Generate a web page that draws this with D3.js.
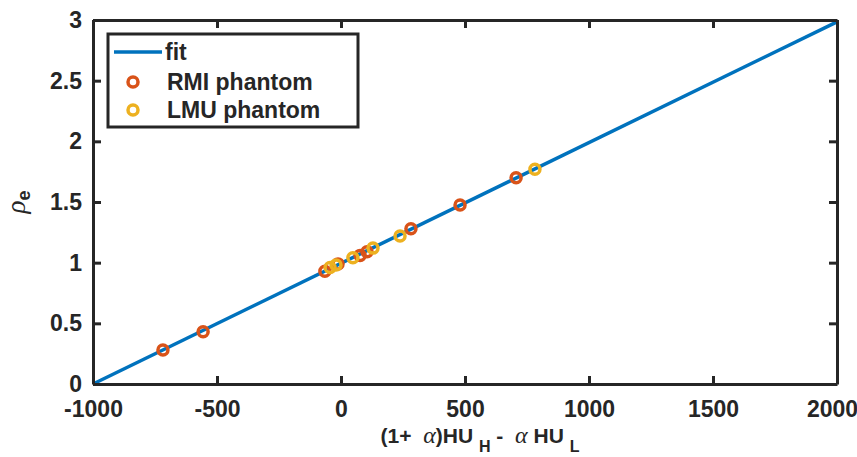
<!DOCTYPE html>
<html>
<head>
<meta charset="utf-8">
<script src="https://cdn.jsdelivr.net/npm/d3@7"></script>
<style>
  body { margin: 0; background: #fff; }
  text { font-family: "Liberation Sans", Arial, sans-serif; font-weight: bold; fill: #262626; }
</style>
</head>
<body>
<script>
'use strict';

// data
let fitX = [-1000, 2000];
let fitY = [0, 2.985];
let rmiX = [-718, -556, -65, -12, 77, 105, 282, 480, 706];
let rmiY = [0.28, 0.43, 0.93, 0.99, 1.06, 1.09, 1.28, 1.475, 1.70];
let lmuX = [-44, -20, 48, 129, 238, 782];
let lmuY = [0.96, 0.98, 1.04, 1.12, 1.22, 1.77];
let xTicks = [-1000, -500, 0, 500, 1000, 1500, 2000];
let yTicks = [0, 0.5, 1, 1.5, 2, 2.5, 3];

let width = 857;
let height = 457;
let margin = {left: 93, right: 20, top: 20, bottom: 73};
let axisColor = '#262626';
let blue = '#0072BD', orange = '#D95319', yellow = '#EDB120';

let svg = d3.select('body').append('svg')
  .attr('width', width)
  .attr('height', height);

let xScale = d3.scaleLinear()
  .domain([-1000, 2000])
  .range([margin.left, width - margin.right]);
let yScale = d3.scaleLinear()
  .domain([0, 3])
  .range([height - margin.bottom, margin.top]);

// fit line
let line = d3.line()
  .x(d => xScale(d[0]))
  .y(d => yScale(d[1]));
svg.append('path')
  .datum(d3.zip(fitX, fitY))
  .attr('d', line)
  .attr('fill', 'none')
  .attr('stroke', blue)
  .attr('stroke-width', 3.5);

// markers
function drawPoints(xs, ys, color) {
  svg.append('g').selectAll('circle')
    .data(d3.zip(xs, ys))
    .enter()
    .append('circle')
    .attr('cx', d => xScale(d[0]))
    .attr('cy', d => yScale(d[1]))
    .attr('r', 5)
    .attr('fill', 'none')
    .attr('stroke', color)
    .attr('stroke-width', 3.5);
}
drawPoints(rmiX, rmiY, orange);
drawPoints(lmuX, lmuY, yellow);

// axes (box with inward ticks)
function styleAxis(g) {
  g.select('.domain').attr('stroke', axisColor).attr('stroke-width', 3);
  g.selectAll('.tick line').attr('stroke', axisColor).attr('stroke-width', 3);
  g.selectAll('.tick text')
    .attr('fill', axisColor)
    .style('font-family', '"Liberation Sans", Arial, sans-serif')
    .style('font-weight', 'bold')
    .style('font-size', '23px');
}

let fmt = d => String(d);
let xAxisG = svg.append('g')
  .attr('transform', 'translate(0,' + (height - margin.bottom) + ')')
  .call(d3.axisBottom(xScale).tickValues(xTicks).tickSizeInner(-8).tickSizeOuter(0).tickPadding(17).tickFormat(fmt))
  .call(styleAxis);
// keep the last label inside the page
xAxisG.selectAll('.tick text').filter(d => d === 2000).attr('x', -5);

svg.append('g')
  .attr('transform', 'translate(0,' + margin.top + ')')
  .call(d3.axisTop(xScale).tickValues(xTicks).tickSizeInner(-8).tickSizeOuter(0).tickFormat(''))
  .call(styleAxis);
svg.append('g')
  .attr('transform', 'translate(' + margin.left + ',0)')
  .call(d3.axisLeft(yScale).tickValues(yTicks).tickSizeInner(-8).tickSizeOuter(0).tickPadding(11).tickFormat(fmt))
  .call(styleAxis);
svg.append('g')
  .attr('transform', 'translate(' + (width - margin.right) + ',0)')
  .call(d3.axisRight(yScale).tickValues(yTicks).tickSizeInner(-8).tickSizeOuter(0).tickFormat(''))
  .call(styleAxis);

// x label
let xl = svg.append('text')
  .attr('x', 480)
  .attr('y', 443)
  .attr('text-anchor', 'middle')
  .attr('xml:space', 'preserve')
  .style('font-size', '21px');
xl.append('tspan').text('(1+  ');
xl.append('tspan').style('font-family', '"Liberation Serif", serif').style('font-style', 'italic').style('font-weight', 'normal').style('font-size', '24px').text('\u03b1');
xl.append('tspan').text(')HU ');
xl.append('tspan').attr('dy', 9).style('font-size', '16px').text('H');
xl.append('tspan').attr('dy', -9).text(' -  ');
xl.append('tspan').style('font-family', '"Liberation Serif", serif').style('font-style', 'italic').style('font-weight', 'normal').style('font-size', '24px').text('\u03b1');
xl.append('tspan').text(' HU ');
xl.append('tspan').attr('dy', 9).style('font-size', '16px').text('L');

// y label
let yl = svg.append('text')
  .attr('transform', 'translate(25,' + yScale(1.5) + ') rotate(-90)')
  .attr('text-anchor', 'middle')
  .style('font-size', '23px');
yl.append('tspan').style('font-family', '"Liberation Serif", serif').style('font-style', 'italic').style('font-weight', 'normal').style('font-size', '27px').text('\u03c1');
yl.append('tspan').attr('dy', 5).style('font-size', '18px').text('e');

// legend
let lg = svg.append('g');
lg.append('rect')
  .attr('x', 108).attr('y', 34)
  .attr('width', 250).attr('height', 93)
  .attr('fill', '#fff')
  .attr('stroke', axisColor)
  .attr('stroke-width', 3);
lg.append('line')
  .attr('x1', 114).attr('x2', 162)
  .attr('y1', 52).attr('y2', 52)
  .attr('stroke', blue).attr('stroke-width', 3.5);
lg.append('circle').attr('cx', 133).attr('cy', 82).attr('r', 5)
  .attr('fill', 'none').attr('stroke', orange).attr('stroke-width', 3.5);
lg.append('circle').attr('cx', 133).attr('cy', 110).attr('r', 5)
  .attr('fill', 'none').attr('stroke', yellow).attr('stroke-width', 3.5);
let labels = [['fit', 165, 60], ['RMI phantom', 167, 90], ['LMU phantom', 167, 118]];
labels.forEach(l => {
  lg.append('text')
    .attr('x', l[1]).attr('y', l[2])
    .style('font-size', '23px')
    .attr('fill', '#000')
    .text(l[0]);
});
</script>
</body>
</html>
